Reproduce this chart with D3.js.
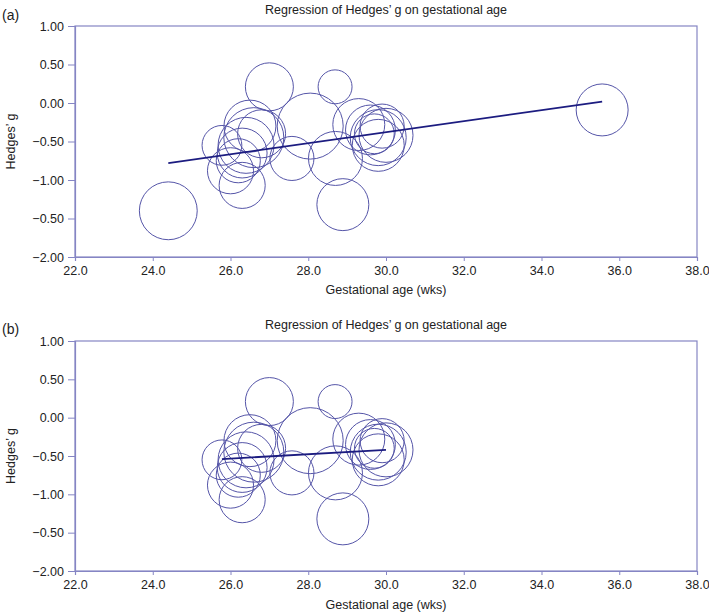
<!DOCTYPE html>
<html>
<head>
<meta charset="utf-8">
<script src="https://cdn.jsdelivr.net/npm/d3@7"></script>
<style>
  body { margin: 0; background: #fff; }
  text { font-family: "Liberation Sans", Arial, Helvetica, sans-serif; }
</style>
</head>
<body>
<svg id="chart" width="709" height="614"></svg>
<script>
// ---- Data ----
const panelLabels = ["(a)", "(b)"];
const chartTitle = "Regression of Hedges\u2019 g on gestational age";
const xAxisTitle = "Gestational age (wks)";
const yAxisTitle = "Hedges\u2019 g";
const xTickValues = [22, 24, 26, 28, 30, 32, 34, 36, 38];
const yTickValues = [1.0, 0.5, 0.0, -0.5, -1.0, -1.5, -2.0];
const yTickLabels = ["1.00", "0.50", "0.00", "\u22120.50", "\u22121.00", "\u22120.50", "\u22122.00"];

// Panel (a): all studies
const gestAgeA = [24.4, 25.78, 26.0, 26.3, 26.2, 26.3, 26.4, 26.5, 26.6, 26.8, 27.0, 27.58, 28.05, 28.69, 28.7, 28.89, 29.3, 29.6, 29.8, 29.9, 29.7, 30.0, 29.8, 35.56];
const hedgesA  = [-1.40, -0.55, -0.88, -1.07, -0.75, -0.65, -0.55, -0.30, -0.45, -0.40, 0.21, -0.72, -0.30, 0.21, -0.72, -1.32, -0.28, -0.35, -0.45, -0.30, -0.40, -0.42, -0.55, -0.09];
const weightA  = [9.3, 4.4, 5.9, 5.9, 5.4, 6.9, 8.7, 7.5, 10.0, 6.4, 6.4, 5.4, 12.1, 3.2, 8.1, 7.5, 7.5, 6.9, 8.7, 5.4, 4.4, 8.1, 7.5, 7.5];
const regA = { intercept: -2.5246, slope: 0.0715 };

// Panel (b): outliers removed
const gestAgeB = [25.78, 26.0, 26.3, 26.2, 26.3, 26.4, 26.5, 26.6, 26.8, 27.0, 27.58, 28.05, 28.69, 28.7, 28.89, 29.3, 29.6, 29.8, 29.9, 29.7, 30.0, 29.8];
const hedgesB  = [-0.55, -0.88, -1.07, -0.75, -0.65, -0.55, -0.30, -0.45, -0.40, 0.21, -0.72, -0.30, 0.21, -0.72, -1.32, -0.28, -0.35, -0.45, -0.30, -0.40, -0.42, -0.55];
const weightB  = [4.4, 5.9, 5.9, 5.4, 6.9, 8.7, 7.5, 10.0, 6.4, 6.4, 5.4, 12.1, 3.2, 8.1, 7.5, 7.5, 6.9, 8.7, 5.4, 4.4, 8.1, 7.5];
const regB = { intercept: -1.272, slope: 0.0284 };

// ---- Drawing ----
const svg = d3.select("#chart");
const axisColor = "#8585c4";
const circleColor = "#5555a8";
const lineColor = "#1c1c80";

const rScale = d3.scaleSqrt().domain([0, 10]).range([0, 30]);

function drawPanel(cfg) {
  const { top, bottom, label, ga, hg, wt, reg, titleY, labelY, tickLabelY, xTitleY } = cfg;
  const left = 75, right = 697;
  const x = d3.scaleLinear().domain([22, 38]).range([left, right]);
  const y = d3.scaleLinear().domain([-2, 1]).range([bottom, top]);
  const g = svg.append("g");

  // frame
  g.append("rect").attr("x", left).attr("y", top).attr("width", right - left).attr("height", bottom - top)
    .attr("fill", "none").attr("stroke", axisColor).attr("stroke-width", 1.2);

  // y axis
  const yAxis = d3.axisLeft(y).tickValues(yTickValues).tickSize(7).tickPadding(4)
    .tickFormat((d, i) => yTickLabels[i]);
  const ya = g.append("g").attr("transform", `translate(${left},0)`).call(yAxis);
  ya.select(".domain").attr("stroke", axisColor).attr("stroke-width", 1.2);
  ya.selectAll(".tick line").attr("stroke", axisColor);
  ya.selectAll(".tick text").attr("font-size", 12.5).attr("fill", "#222")
    .attr("font-family", "'Liberation Sans', Arial, sans-serif");

  // x axis
  const xAxis = d3.axisBottom(x).tickValues(xTickValues).tickSize(4).tickPadding(5)
    .tickFormat(d3.format(".1f"));
  const xa = g.append("g").attr("transform", `translate(0,${bottom})`).call(xAxis);
  xa.select(".domain").attr("stroke", axisColor).attr("stroke-width", 1.2);
  xa.selectAll(".tick line").attr("stroke", axisColor);
  xa.selectAll(".tick text").attr("font-size", 12.5).attr("fill", "#222")
    .attr("font-family", "'Liberation Sans', Arial, sans-serif");

  // circles
  g.append("g").selectAll("circle").data(ga.map((d, i) => ({ ga: d, g: hg[i], w: wt[i] })))
    .join("circle")
    .attr("cx", d => x(d.ga)).attr("cy", d => y(d.g)).attr("r", d => rScale(d.w))
    .attr("fill", "none").attr("stroke", circleColor).attr("stroke-width", 1);

  // regression line
  const [mn, mx] = d3.extent(ga);
  g.append("line")
    .attr("x1", x(mn)).attr("y1", y(reg.intercept + reg.slope * mn))
    .attr("x2", x(mx)).attr("y2", y(reg.intercept + reg.slope * mx))
    .attr("stroke", lineColor).attr("stroke-width", 1.8);

  // titles
  g.append("text").attr("x", (left + right) / 2).attr("y", titleY).attr("text-anchor", "middle")
    .attr("font-size", 12.5).attr("fill", "#222").text(chartTitle);
  g.append("text").attr("x", 2).attr("y", labelY).attr("font-size", 14).attr("fill", "#222").text(label);
  g.append("text").attr("x", (left + right) / 2).attr("y", xTitleY).attr("text-anchor", "middle")
    .attr("font-size", 12.5).attr("fill", "#222").text(xAxisTitle);
  g.append("text").attr("transform", `translate(15,${(top + bottom) / 2}) rotate(-90)`)
    .attr("text-anchor", "middle").attr("font-size", 12.5).attr("fill", "#222").text(yAxisTitle);
}

drawPanel({ top: 26, bottom: 257, label: panelLabels[0], ga: gestAgeA, hg: hedgesA, wt: weightA, reg: regA,
  titleY: 14, labelY: 20, xTitleY: 294 });
drawPanel({ top: 341, bottom: 571, label: panelLabels[1], ga: gestAgeB, hg: hedgesB, wt: weightB, reg: regB,
  titleY: 329, labelY: 334, xTitleY: 609 });
</script>
</body>
</html>
